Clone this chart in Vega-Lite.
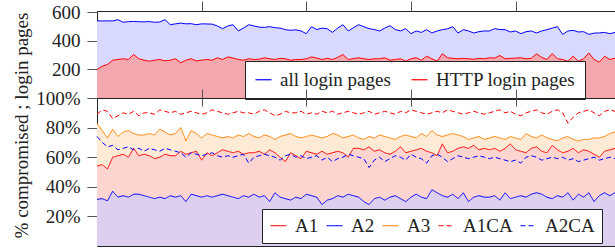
{
  "$schema": "https://vega.github.io/schema/vega-lite/v6.json",
  "padding": {"left": 12, "top": 0, "right": 0, "bottom": 0},
  "config": {
    "font": "serif",
    "view": {"stroke": "#222", "strokeWidth": 1},
    "axis": {"labelFont": "serif", "labelFontSize": 19, "labelColor": "#222", "titleFont": "serif", "titleFontWeight": "normal", "titleFontSize": 19, "titleColor": "#222", "grid": false, "tickColor": "#555", "domain": false},
    "legend": {"fillColor": "white", "strokeColor": "#222", "padding": 7, "labelFont": "serif", "labelFontSize": 19, "labelColor": "#222", "symbolType": "stroke", "symbolSize": 256, "symbolStrokeWidth": 1.2, "labelOffset": 7, "columnPadding": 8, "cornerRadius": 0}
  },
  "spacing": 0,
  "bounds": "flush",
  "resolve": {"scale": {"color": "independent", "strokeDash": "independent"}},
  "datasets": {
    "top": [
      {"i":0,"all":542,"http":200},{"i":1,"all":540,"http":223},{"i":2,"all":541,"http":235},{"i":3,"all":540,"http":265},{"i":4,"all":549,"http":270},
      {"i":5,"all":531,"http":275},{"i":6,"all":535,"http":270},{"i":7,"all":537,"http":305},{"i":8,"all":535,"http":275},{"i":9,"all":534,"http":265},
      {"i":10,"all":536,"http":258},{"i":11,"all":531,"http":265},{"i":12,"all":533,"http":270},{"i":13,"all":549,"http":260},{"i":14,"all":514,"http":265},
      {"i":15,"all":520,"http":275},{"i":16,"all":525,"http":247},{"i":17,"all":520,"http":265},{"i":18,"all":521,"http":275},{"i":19,"all":514,"http":260},
      {"i":20,"all":520,"http":265},{"i":21,"all":519,"http":270},{"i":22,"all":518,"http":265},{"i":23,"all":505,"http":282},{"i":24,"all":486,"http":270},
      {"i":25,"all":505,"http":288},{"i":26,"all":514,"http":280},{"i":27,"all":470,"http":270},{"i":28,"all":490,"http":265},{"i":29,"all":514,"http":275},
      {"i":30,"all":505,"http":270},{"i":31,"all":497,"http":272},{"i":32,"all":495,"http":282},{"i":33,"all":500,"http":275},{"i":34,"all":493,"http":270},
      {"i":35,"all":490,"http":278},{"i":36,"all":479,"http":275},{"i":37,"all":475,"http":265},{"i":38,"all":478,"http":270},{"i":39,"all":470,"http":270},
      {"i":40,"all":451,"http":275},{"i":41,"all":500,"http":288},{"i":42,"all":480,"http":280},{"i":43,"all":490,"http":270},{"i":44,"all":485,"http":278},
      {"i":45,"all":460,"http":270},{"i":46,"all":490,"http":285},{"i":47,"all":514,"http":305},{"i":48,"all":470,"http":270},{"i":49,"all":492,"http":276},
      {"i":50,"all":514,"http":282},{"i":51,"all":500,"http":275},{"i":52,"all":486,"http":270},{"i":53,"all":480,"http":275},{"i":54,"all":470,"http":275},
      {"i":55,"all":490,"http":282},{"i":56,"all":507,"http":265},{"i":57,"all":480,"http":270},{"i":58,"all":470,"http":275},{"i":59,"all":486,"http":258},
      {"i":60,"all":451,"http":275},{"i":61,"all":470,"http":282},{"i":62,"all":460,"http":265},{"i":63,"all":479,"http":293},{"i":64,"all":456,"http":275},
      {"i":65,"all":470,"http":258},{"i":66,"all":479,"http":310},{"i":67,"all":485,"http":282},{"i":68,"all":500,"http":278},{"i":69,"all":455,"http":275},
      {"i":70,"all":479,"http":278},{"i":71,"all":470,"http":275},{"i":72,"all":456,"http":272},{"i":73,"all":465,"http":278},{"i":74,"all":470,"http":275},
      {"i":75,"all":470,"http":282},{"i":76,"all":486,"http":280},{"i":77,"all":480,"http":298},{"i":78,"all":479,"http":275},{"i":79,"all":463,"http":278},
      {"i":80,"all":470,"http":280},{"i":81,"all":451,"http":282},{"i":82,"all":465,"http":275},{"i":83,"all":470,"http":278},{"i":84,"all":456,"http":310},
      {"i":85,"all":470,"http":285},{"i":86,"all":479,"http":270},{"i":87,"all":490,"http":312},{"i":88,"all":500,"http":275},{"i":89,"all":446,"http":270},
      {"i":90,"all":470,"http":258},{"i":91,"all":474,"http":293},{"i":92,"all":463,"http":258},{"i":93,"all":465,"http":275},{"i":94,"all":446,"http":316},
      {"i":95,"all":455,"http":270},{"i":96,"all":456,"http":251},{"i":97,"all":460,"http":293},{"i":98,"all":451,"http":270},{"i":99,"all":460,"http":279}
    ],
    "bottom": [
      {"i":0,"A1":54,"A2":31.5,"A3":83,"A1CA":89,"A2CA":74},{"i":1,"A1":55,"A2":32,"A3":78,"A1CA":92,"A2CA":70},{"i":2,"A1":52,"A2":30.5,"A3":73,"A1CA":91,"A2CA":67},
      {"i":3,"A1":60,"A2":37,"A3":79,"A1CA":86,"A2CA":68},{"i":4,"A1":61,"A2":33,"A3":74,"A1CA":88,"A2CA":65},{"i":5,"A1":62,"A2":34,"A3":77,"A1CA":90,"A2CA":66},
      {"i":6,"A1":60,"A2":33,"A3":78,"A1CA":89,"A2CA":67},{"i":7,"A1":66,"A2":35,"A3":76,"A1CA":91,"A2CA":65},{"i":8,"A1":61,"A2":35,"A3":75,"A1CA":88,"A2CA":66},
      {"i":9,"A1":62,"A2":34,"A3":75,"A1CA":90,"A2CA":64},{"i":10,"A1":61,"A2":33,"A3":76,"A1CA":90,"A2CA":66},{"i":11,"A1":59,"A2":32,"A3":75,"A1CA":89,"A2CA":65},
      {"i":12,"A1":60,"A2":33,"A3":79,"A1CA":92,"A2CA":64},{"i":13,"A1":62,"A2":32,"A3":77,"A1CA":91,"A2CA":66},{"i":14,"A1":61,"A2":34,"A3":75,"A1CA":90,"A2CA":65},
      {"i":15,"A1":61,"A2":33,"A3":76,"A1CA":91,"A2CA":64},{"i":16,"A1":64,"A2":34,"A3":80,"A1CA":89,"A2CA":63},{"i":17,"A1":62,"A2":30,"A3":71,"A1CA":90,"A2CA":60},
      {"i":18,"A1":63,"A2":35,"A3":78,"A1CA":91,"A2CA":63},{"i":19,"A1":64,"A2":34,"A3":76,"A1CA":90,"A2CA":62},{"i":20,"A1":58,"A2":33,"A3":73,"A1CA":89,"A2CA":61},
      {"i":21,"A1":63,"A2":34,"A3":76,"A1CA":90,"A2CA":62},{"i":22,"A1":61,"A2":33,"A3":75,"A1CA":92,"A2CA":63},{"i":23,"A1":63,"A2":34,"A3":74,"A1CA":91,"A2CA":61},
      {"i":24,"A1":65,"A2":35,"A3":73,"A1CA":90,"A2CA":60},{"i":25,"A1":64,"A2":34,"A3":74,"A1CA":89,"A2CA":61},{"i":26,"A1":63,"A2":33,"A3":73,"A1CA":90,"A2CA":60},
      {"i":27,"A1":64,"A2":32,"A3":75,"A1CA":91,"A2CA":61},{"i":28,"A1":62,"A2":34,"A3":74,"A1CA":90,"A2CA":62},{"i":29,"A1":63,"A2":33,"A3":76,"A1CA":90,"A2CA":56},
      {"i":30,"A1":63,"A2":35,"A3":74,"A1CA":89,"A2CA":60},{"i":31,"A1":64,"A2":33,"A3":73,"A1CA":91,"A2CA":61},{"i":32,"A1":62,"A2":34,"A3":75,"A1CA":92,"A2CA":62},
      {"i":33,"A1":65,"A2":30,"A3":74,"A1CA":90,"A2CA":61},{"i":34,"A1":63,"A2":36,"A3":72,"A1CA":88,"A2CA":60},{"i":35,"A1":60,"A2":33,"A3":74,"A1CA":89,"A2CA":58},
      {"i":36,"A1":57,"A2":32,"A3":75,"A1CA":91,"A2CA":61},{"i":37,"A1":63,"A2":31,"A3":76,"A1CA":90,"A2CA":62},{"i":38,"A1":61,"A2":33,"A3":74,"A1CA":90,"A2CA":60},
      {"i":39,"A1":59,"A2":32,"A3":73,"A1CA":91,"A2CA":61},{"i":40,"A1":64,"A2":35,"A3":74,"A1CA":89,"A2CA":59},{"i":41,"A1":63,"A2":34,"A3":75,"A1CA":90,"A2CA":60},
      {"i":42,"A1":62,"A2":33,"A3":74,"A1CA":89,"A2CA":61},{"i":43,"A1":64,"A2":28,"A3":73,"A1CA":91,"A2CA":58},{"i":44,"A1":62,"A2":31,"A3":74,"A1CA":90,"A2CA":60},
      {"i":45,"A1":63,"A2":32,"A3":76,"A1CA":91,"A2CA":57},{"i":46,"A1":64,"A2":34,"A3":75,"A1CA":89,"A2CA":59},{"i":47,"A1":63,"A2":33,"A3":73,"A1CA":90,"A2CA":60},
      {"i":48,"A1":60,"A2":35,"A3":74,"A1CA":91,"A2CA":62},{"i":49,"A1":66,"A2":34,"A3":75,"A1CA":90,"A2CA":61},{"i":50,"A1":66,"A2":33,"A3":73,"A1CA":89,"A2CA":60},
      {"i":51,"A1":65,"A2":30,"A3":72,"A1CA":90,"A2CA":59},{"i":52,"A1":67,"A2":28,"A3":74,"A1CA":91,"A2CA":53},{"i":53,"A1":64,"A2":32,"A3":73,"A1CA":89,"A2CA":58},
      {"i":54,"A1":65,"A2":33,"A3":75,"A1CA":90,"A2CA":60},{"i":55,"A1":63,"A2":31,"A3":74,"A1CA":91,"A2CA":57},{"i":56,"A1":62,"A2":33,"A3":73,"A1CA":90,"A2CA":59},
      {"i":57,"A1":64,"A2":34,"A3":72,"A1CA":89,"A2CA":61},{"i":58,"A1":67,"A2":32,"A3":74,"A1CA":91,"A2CA":60},{"i":59,"A1":63,"A2":30,"A3":75,"A1CA":90,"A2CA":58},
      {"i":60,"A1":64,"A2":33,"A3":74,"A1CA":92,"A2CA":62},{"i":61,"A1":65,"A2":35,"A3":73,"A1CA":91,"A2CA":60},{"i":62,"A1":66,"A2":33,"A3":76,"A1CA":90,"A2CA":59},
      {"i":63,"A1":64,"A2":32,"A3":74,"A1CA":89,"A2CA":56},{"i":64,"A1":63,"A2":38,"A3":78,"A1CA":90,"A2CA":61},{"i":65,"A1":61,"A2":36,"A3":75,"A1CA":91,"A2CA":62},
      {"i":66,"A1":69,"A2":34,"A3":74,"A1CA":90,"A2CA":60},{"i":67,"A1":63,"A2":33,"A3":75,"A1CA":92,"A2CA":57},{"i":68,"A1":64,"A2":35,"A3":76,"A1CA":91,"A2CA":59},
      {"i":69,"A1":66,"A2":32,"A3":75,"A1CA":90,"A2CA":61},{"i":70,"A1":67,"A2":36,"A3":74,"A1CA":89,"A2CA":60},{"i":71,"A1":66,"A2":30,"A3":72,"A1CA":90,"A2CA":59},
      {"i":72,"A1":68,"A2":33,"A3":73,"A1CA":91,"A2CA":60},{"i":73,"A1":65,"A2":34,"A3":74,"A1CA":90,"A2CA":61},{"i":74,"A1":66,"A2":33,"A3":72,"A1CA":89,"A2CA":60},
      {"i":75,"A1":65,"A2":33,"A3":73,"A1CA":90,"A2CA":59},{"i":76,"A1":66,"A2":34,"A3":74,"A1CA":91,"A2CA":60},{"i":77,"A1":64,"A2":31,"A3":73,"A1CA":92,"A2CA":59},
      {"i":78,"A1":66,"A2":36,"A3":72,"A1CA":90,"A2CA":58},{"i":79,"A1":69,"A2":32,"A3":74,"A1CA":91,"A2CA":57},{"i":80,"A1":65,"A2":33,"A3":73,"A1CA":89,"A2CA":58},
      {"i":81,"A1":64,"A2":34,"A3":72,"A1CA":88,"A2CA":56},{"i":82,"A1":63,"A2":33,"A3":76,"A1CA":90,"A2CA":60},{"i":83,"A1":66,"A2":35,"A3":74,"A1CA":91,"A2CA":61},
      {"i":84,"A1":67,"A2":36,"A3":73,"A1CA":92,"A2CA":60},{"i":85,"A1":64,"A2":35,"A3":75,"A1CA":90,"A2CA":58},{"i":86,"A1":63,"A2":33,"A3":73,"A1CA":89,"A2CA":59},
      {"i":87,"A1":68,"A2":32,"A3":72,"A1CA":91,"A2CA":60},{"i":88,"A1":65,"A2":34,"A3":71,"A1CA":92,"A2CA":59},{"i":89,"A1":63,"A2":33,"A3":73,"A1CA":90,"A2CA":60},
      {"i":90,"A1":64,"A2":36,"A3":74,"A1CA":83,"A2CA":58},{"i":91,"A1":66,"A2":31,"A3":72,"A1CA":87,"A2CA":59},{"i":92,"A1":63,"A2":35,"A3":71,"A1CA":90,"A2CA":57},
      {"i":93,"A1":65,"A2":33,"A3":72,"A1CA":91,"A2CA":58},{"i":94,"A1":64,"A2":36,"A3":72,"A1CA":92,"A2CA":59},{"i":95,"A1":62,"A2":30,"A3":73,"A1CA":90,"A2CA":60},
      {"i":96,"A1":60,"A2":34,"A3":73,"A1CA":88,"A2CA":58},{"i":97,"A1":64,"A2":36,"A3":74,"A1CA":91,"A2CA":59},{"i":98,"A1":65,"A2":34,"A3":76,"A1CA":92,"A2CA":60},
      {"i":99,"A1":66,"A2":36,"A3":77,"A1CA":91,"A2CA":59}
    ]
  },
  "vconcat": [
    {
      "width": 518,
      "height": 87,
      "data": {"name": "top"},
      "transform": [{"fold": ["all", "http"], "as": ["series", "v"]}],
      "encoding": {
        "y": {"field": "v", "type": "quantitative", "scale": {"domain": [0, 610], "nice": false}, "axis": {"values": [200, 400, 600], "title": null, "tickSize": 10, "labelPadding": 7}}
      },
      "layer": [
        {
          "transform": [{"filter": "datum.series == 'all'"}],
          "mark": {"type": "area", "color": "#d9d9ff"},
          "encoding": {"x": {"field": "i", "type": "quantitative", "scale": {"domain": [0, 99], "nice": false, "zero": false}, "axis": {"orient": "top", "values": [20, 40, 60, 80], "labels": false, "tickSize": 10, "title": null}}}
        },
        {
          "transform": [{"filter": "datum.series == 'http'"}],
          "mark": {"type": "area", "color": "#f3a8b0"},
          "encoding": {"x": {"field": "i", "type": "quantitative", "scale": {"domain": [0, 99], "nice": false, "zero": false}, "axis": null}}
        },
        {
          "mark": {"type": "line", "strokeWidth": 1},
          "encoding": {
            "x": {"field": "i", "type": "quantitative", "scale": {"domain": [0, 99], "nice": false, "zero": false}, "axis": null},
            "color": {"field": "series", "type": "nominal", "scale": {"domain": ["all", "http"], "range": ["#0000ff", "#ff0000"]},
              "legend": {"title": null, "orient": "none", "legendX": 148, "legendY": 50, "direction": "horizontal", "columns": 2, "columnPadding": 18, "padding": 9, "labelExpr": "datum.label == 'all' ? 'all login pages' : 'HTTP login pages'"}}
          }
        },
        {
          "mark": {"type": "rule", "opacity": 0},
          "encoding": {"x": {"field": "i", "type": "quantitative", "scale": {"domain": [0, 99], "nice": false, "zero": false}, "axis": {"orient": "bottom", "values": [20, 40, 60, 80], "labels": false, "tickSize": 9, "offset": -9, "title": null, "zindex": 1}}}
        }
      ],
      "resolve": {"axis": {"x": "independent"}}
    },
    {
      "width": 518,
      "height": 148,
      "data": {"name": "bottom"},
      "transform": [{"fold": ["A1", "A2", "A3", "A1CA", "A2CA"], "as": ["series", "v"]}],
      "encoding": {
        "y": {"field": "v", "type": "quantitative", "scale": {"domain": [0, 100], "nice": false}, "axis": {"values": [20, 40, 60, 80, 100], "labelExpr": "datum.value + '%'", "title": "% compromised ; login pages", "titleY": 27, "titlePadding": 4, "tickSize": 10, "labelPadding": 7}}
      },
      "layer": [
        {
          "transform": [{"filter": "datum.series == 'A3'"}],
          "mark": {"type": "area", "color": "#ffead6"},
          "encoding": {"x": {"field": "i", "type": "quantitative", "scale": {"domain": [0, 99], "nice": false, "zero": false}, "axis": {"orient": "top", "values": [20, 40, 60, 80], "labels": false, "tickSize": 8, "offset": -8, "title": null}}}
        },
        {
          "transform": [{"filter": "datum.series == 'A1'"}],
          "mark": {"type": "area", "color": "#fcd5d0"},
          "encoding": {"x": {"field": "i", "type": "quantitative", "scale": {"domain": [0, 99], "nice": false, "zero": false}, "axis": null}}
        },
        {
          "transform": [{"filter": "datum.series == 'A2'"}],
          "mark": {"type": "area", "color": "#dccff0"},
          "encoding": {"x": {"field": "i", "type": "quantitative", "scale": {"domain": [0, 99], "nice": false, "zero": false}, "axis": null}}
        },
        {
          "mark": {"type": "line", "strokeWidth": 1},
          "encoding": {
            "x": {"field": "i", "type": "quantitative", "scale": {"domain": [0, 99], "nice": false, "zero": false}, "axis": null},
            "color": {"field": "series", "type": "nominal", "scale": {"domain": ["A1", "A2", "A3", "A1CA", "A2CA"], "range": ["#ff0000", "#0000ff", "#ff8000", "#ff0000", "#0000ff"]},
              "legend": {"title": null, "orient": "none", "legendX": 165, "legendY": 111, "direction": "horizontal", "columns": 5, "columnPadding": 5}},
            "strokeDash": {"field": "series", "type": "nominal", "scale": {"domain": ["A1", "A2", "A3", "A1CA", "A2CA"], "range": [[1, 0], [1, 0], [1, 0], [5, 3], [5, 3]]},
              "legend": {"title": null, "orient": "none", "legendX": 165, "legendY": 111, "direction": "horizontal", "columns": 5, "columnPadding": 5}}
          }
        }
      ],
      "resolve": {"axis": {"x": "independent"}}
    }
  ]
}
